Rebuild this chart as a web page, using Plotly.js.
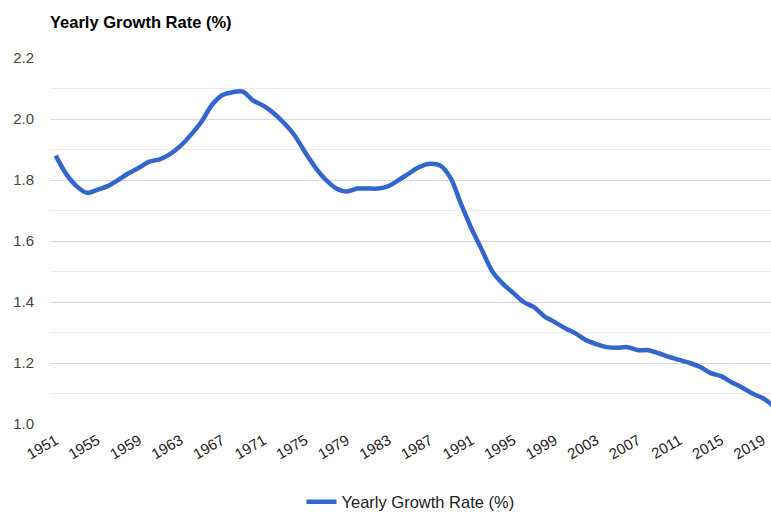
<!DOCTYPE html>
<html>
<head>
<meta charset="utf-8">
<script src="https://cdn.plot.ly/plotly-3.0.1.min.js"></script>
<style>html,body{margin:0;padding:0;background:#fff;}#chart{width:771px;height:512px;}</style>
</head>
<body>
<div id="chart"></div>
<script>
const years = [1951,1952,1953,1954,1955,1956,1957,1958,1959,1960,1961,1962,1963,1964,1965,1966,1967,1968,1969,1970,
1971,1972,1973,1974,1975,1976,1977,1978,1979,1980,1981,1982,1983,1984,1985,1986,1987,1988,1989,1990,
1991,1992,1993,1994,1995,1996,1997,1998,1999,2000,2001,2002,2003,2004,2005,2006,2007,2008,2009,2010,
2011,2012,2013,2014,2015,2016,2017,2018,2019,2020];
const growthRate = [1.88,1.82,1.78,1.758,1.768,1.78,1.80,1.822,1.84,1.86,1.868,1.885,1.912,1.948,1.99,2.045,2.078,2.088,2.09,2.06,
2.043,2.018,1.985,1.945,1.89,1.84,1.80,1.772,1.762,1.772,1.772,1.772,1.78,1.80,1.822,1.843,1.853,1.847,1.805,1.72,
1.64,1.57,1.50,1.46,1.43,1.40,1.383,1.353,1.334,1.314,1.297,1.275,1.262,1.252,1.25,1.252,1.242,1.242,1.232,1.22,
1.21,1.20,1.187,1.167,1.157,1.137,1.12,1.10,1.085,1.06];
const xTickYears = [1951,1955,1959,1963,1967,1971,1975,1979,1983,1987,1991,1995,1999,2003,2007,2011,2015,2019];
const xTickLabels = xTickYears.map(String);
const yTickVals = [1.0,1.2,1.4,1.6,1.8,2.0,2.2];
const yTickLabels = ['1.0','1.2','1.4','1.6','1.8','2.0','2.2'];
const seriesName = 'Yearly Growth Rate (%)';

const trace = {
  x: years, y: growthRate, type: 'scatter', mode: 'lines', name: seriesName,
  line: {color: '#3366cc', width: 4.5, shape: 'spline', smoothing: 0.8}
};
const layout = {
  width: 771, height: 512,
  margin: {l: 50, r: 0, t: 58, b: 88},
  paper_bgcolor: '#fff', plot_bgcolor: '#fff',
  font: {family: 'Liberation Sans, Arial, sans-serif', size: 15, color: '#444'},
  title: {text: '<b>Yearly Growth Rate (%)</b>', font: {size: 16.5, color: '#000'}, x: 0, xanchor: 'left', xref: 'paper', y: 1 - 22/512, yanchor: 'middle'},
  xaxis: {
    range: [1950.45, 2019.8], tickmode: 'array', tickvals: xTickYears, ticktext: xTickLabels,
    tickangle: -30, showgrid: false, zeroline: false, showline: false, ticks: '', automargin: false,
    ticklabelstandoff: 4, tickfont: {size: 15, color: '#222'}
  },
  yaxis: {
    range: [1.0, 2.2], tickmode: 'array', tickvals: yTickVals, ticktext: yTickLabels, automargin: false,
    showgrid: true, gridcolor: '#d9d9d9', gridwidth: 1, zeroline: false, showline: false, ticks: '',
    ticklabelstandoff: 15, tickfont: {size: 15, color: '#444'},
    minor: {dtick: 0.1, tick0: 1.0, showgrid: true, gridcolor: '#ebebeb', gridwidth: 1}
  },
  showlegend: true,
  legend: {orientation: 'h', x: 0.5, xanchor: 'center', yref: 'container', y: 10/512, yanchor: 'middle', font: {size: 16.5, color: '#222'}, itemwidth: 30}
};
Plotly.newPlot('chart', [trace], layout, {displayModeBar: false, staticPlot: true});
</script>
</body>
</html>
